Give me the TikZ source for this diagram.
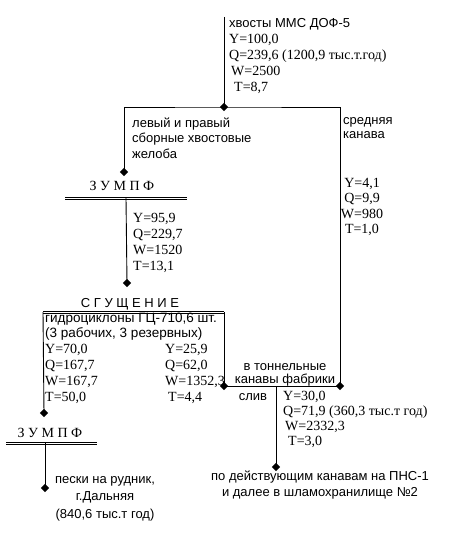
\documentclass[tikz,border=0pt]{standalone}
\usepackage{fontspec}
\setmainfont{Liberation Serif}
\newfontfamily\lblfont{Liberation Sans}
\usetikzlibrary{shapes.geometric}

\begin{document}
\begin{tikzpicture}[
    x=1pt, y=-1pt,
    pipe/.style={line width=0.9pt, black},
    tank/.style={line width=0.9pt, black},
    jn/.style={diamond, fill=black, inner sep=0pt, minimum size=8.5pt},
    dat/.style={font=\fontsize{14}{16}\selectfont, inner sep=0pt, align=left, anchor=base west},
    lbl/.style={font=\lblfont\fontsize{13}{16}\selectfont, inner sep=0pt, align=left, anchor=base west},
    ttl/.style={font=\fontsize{14}{16}\selectfont, inner sep=0pt, anchor=base}
]
\useasboundingbox (0,0) rectangle (449,540);

% junctions and corners
\coordinate (src) at (224,17);
\node[jn] (j1) at (224,107) {};
\node[jn] (j2) at (124,172) {};
\coordinate (z1l) at (65,198);
\coordinate (z1r) at (187,198);
\coordinate (z1o) at (126,198);
\node[jn] (j3) at (127,283) {};
\coordinate (bl) at (43,312);
\coordinate (br) at (224,312);
\node[jn] (j4) at (224,386) {};
\node[jn] (j5) at (340,386) {};
\coordinate (sl) at (276,386);
\node[jn] (j6) at (276,467) {};
\node[jn] (j7) at (44,413) {};
\coordinate (z2l) at (6,443);
\coordinate (z2r) at (97,443);
\coordinate (z2o) at (45,443);
\node[jn] (j8) at (45,488) {};

% lines
\draw[pipe] (src) -- (j1.center);
\draw[pipe] (j2.center) |- (j1.center) -| (j5.center);
\draw[tank] ([yshift=1pt]z1l) -- ([yshift=1pt]z1r) ([yshift=-1pt]z1l) -- ([yshift=-1pt]z1r);
\draw[pipe] (z1o) -- (j3.center);
\draw[tank] ([yshift=1pt]bl) -- ([yshift=1pt]br) ([yshift=-1pt]bl) -- ([yshift=-1pt]br);
\draw[pipe] (j7.center) -- (bl);
\draw[pipe] (br) -- (j4.center) -- (j5.center);
\draw[pipe] (sl) -- (j6.center);
\draw[tank] ([yshift=1pt]z2l) -- ([yshift=1pt]z2r) ([yshift=-1pt]z2l) -- ([yshift=-1pt]z2r);
\draw[pipe] (z2o) -- (j8.center);

% texts (base = baseline of the last line)
\node[dat] (feed) at (229,92)
    {{\lblfont\fontsize{13}{16}\selectfont хвосты ММС ДОФ-5}\\Y=100,0\\Q=239,6 (1200,9 тыс.т.год)\\\hspace{2pt}W=2500\\\hspace{5pt}T=8,7};
\node[lbl] (chute) at (132,159) {левый и правый\\сборные хвостовые\\желоба};
\node[lbl, font=\lblfont\fontsize{13}{14}\selectfont] (mid) at (343,139) {средняя\\канава};
\node[dat, align=center, anchor=base, font=\fontsize{14}{15.5}\selectfont] (midq) at (362,233.5)
    {Y=4,1\\Q=9,9\\W=980\\T=1,0};
\node[ttl] (zumpf1) at (122,190) {З У М П Ф};
\node[dat] (z1q) at (133,270) {Y=95,9\\Q=229,7\\W=1520\\T=13,1};
\node[ttl, font=\lblfont\fontsize{13}{16}\selectfont] (thick) at (130,307) {С Г У Щ Е Н И Е};
\node[lbl, font=\lblfont\fontsize{13.5}{15.5}\selectfont] (cyc) at (45,337.5)
    {гидроциклоны ГЦ-710,6 шт.\\(3 рабочих, 3 резервных)};
\node[dat] (sand) at (45,401) {Y=70,0\\Q=167,7\\W=167,7\\T=50,0};
\node[dat] (over) at (165,401) {Y=25,9\\Q=62,0\\W=1352,3\\\hspace{3pt}T=4,4};
\node[lbl, align=center, anchor=base, font=\lblfont\fontsize{13}{13.5}\selectfont] (tun) at (285,383.5)
    {в тоннельные\\канавы фабрики};
\node[lbl, anchor=base] (sliv) at (253,400) {слив};
\node[dat, font=\fontsize{14}{15}\selectfont] (slq) at (283,445)
    {Y=30,0\\Q=71,9 (360,3 тыс.т год)\\\hspace{2pt}W=2332,3\\\hspace{5pt}T=3,0};
\node[lbl, align=center, anchor=base] (pns) at (320,496)
    {по действующим канавам на ПНС-1\\и далее в шламохранилище №2};
\node[ttl] (zumpf2) at (50,437) {З У М П Ф};
\node[lbl, align=center, anchor=base, font=\lblfont\fontsize{13}{17.5}\selectfont] (mine) at (105,518)
    {пески на рудник,\\г.Дальняя\\(840,6 тыс.т год)};
\end{tikzpicture}
\end{document}
